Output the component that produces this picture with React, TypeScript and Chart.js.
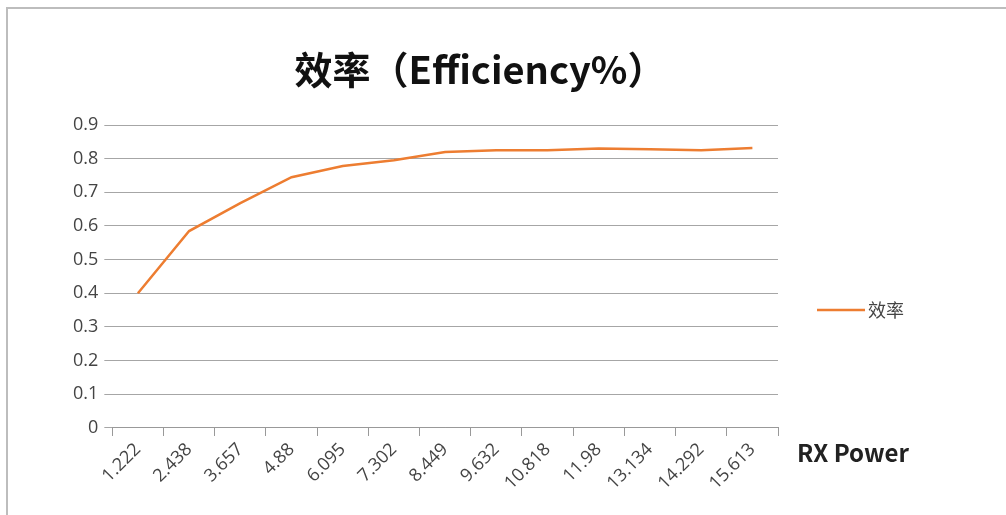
import { useEffect, useRef } from 'react';
import { Chart, registerables, type Plugin } from 'chart.js';

Chart.register(...registerables);

const categories = ['1.222', '2.438', '3.657', '4.88', '6.095', '7.302', '8.449', '9.632', '10.818', '11.98', '13.134', '14.292', '15.613'];
const efficiency = [0.4, 0.585, 0.668, 0.745, 0.778, 0.795, 0.82, 0.825, 0.825, 0.83, 0.828, 0.825, 0.832];
const yTicks = [0, 0.1, 0.2, 0.3, 0.4, 0.5, 0.6, 0.7, 0.8, 0.9];

const FONT = '"Noto Sans CJK SC", "Open Sans", sans-serif';
const TICK_FONT = '"Open Sans", "Noto Sans CJK SC", sans-serif';

// draws the frame, title, axis title and legend
const extras: Plugin<'line'> = {
  id: 'extras',
  afterDraw(chart) {
    const { ctx, chartArea } = chart;
    ctx.save();
    ctx.strokeStyle = '#bdbdbd';
    ctx.lineWidth = 2;
    ctx.strokeRect(7, 8, 1010, 520);
    ctx.fillStyle = '#111';
    ctx.textAlign = 'center';
    ctx.textBaseline = 'middle';
    ctx.font = `bold 38px ${FONT}`;
    ctx.fillText('效率（Efficiency%）', 480, 70);
    ctx.textAlign = 'left';
    ctx.fillStyle = '#222';
    ctx.font = `bold 24px ${FONT}`;
    ctx.fillText('RX Power', 797, chartArea.bottom + 25);
    const ly = 310;
    ctx.strokeStyle = '#ed7d31';
    ctx.lineWidth = 2.5;
    ctx.beginPath();
    ctx.moveTo(817, ly);
    ctx.lineTo(865, ly);
    ctx.stroke();
    ctx.fillStyle = '#444';
    ctx.font = `18px ${FONT}`;
    ctx.fillText('效率', 868, ly);
    ctx.restore();
  },
};

export default function App() {
  const ref = useRef<HTMLCanvasElement>(null);
  useEffect(() => {
    document.body.style.margin = '0';
    if (!ref.current) return;
    const chart = new Chart(ref.current, {
      type: 'line',
      data: {
        labels: categories,
        datasets: [{
          label: '效率',
          data: efficiency,
          borderColor: '#ed7d31',
          borderWidth: 2.5,
          pointRadius: 0,
          tension: 0,
        }],
      },
      options: {
        animation: false,
        responsive: false,
        layout: { padding: { left: 67, right: 228, top: 125, bottom: 18 } },
        plugins: {
          legend: { display: false },
          tooltip: { enabled: false },
        },
        scales: {
          x: {
            offset: true,
            grid: { display: true, offset: true, drawOnChartArea: false, tickLength: 8, color: '#999' },
            border: { color: '#999' },
            ticks: { color: '#444', font: { family: TICK_FONT, size: 18 }, minRotation: 45, maxRotation: 45, autoSkip: false },
          },
          y: {
            min: 0,
            max: 0.9,
            afterBuildTicks: (s) => { s.ticks = yTicks.map((v) => ({ value: v })); },
            grid: { color: '#a6a6a6', tickLength: 8 },
            border: { display: false },
            ticks: { color: '#444', font: { family: TICK_FONT, size: 18 }, padding: 6 },
          },
        },
      },
      plugins: [extras],
    });
    return () => chart.destroy();
  }, []);
  return <canvas ref={ref} width={1006} height={515} style={{ display: 'block' }} />;
}
